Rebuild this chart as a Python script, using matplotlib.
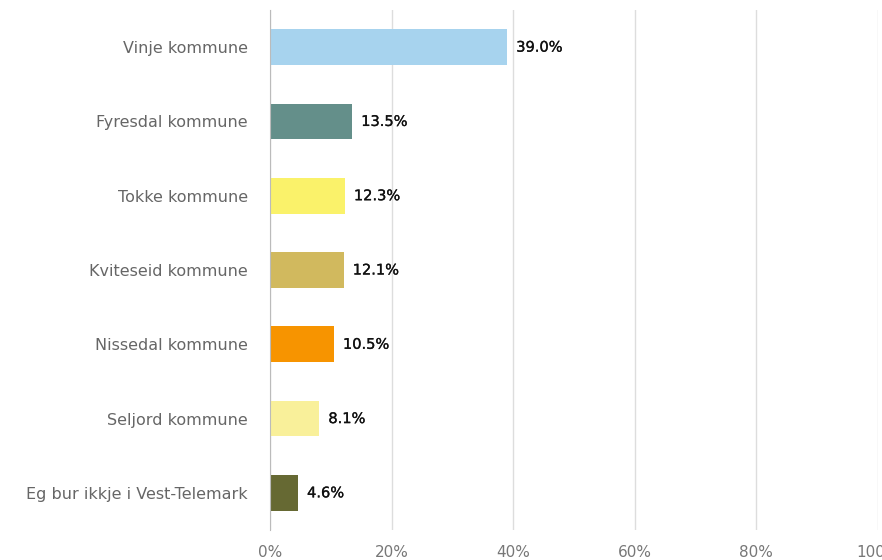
import matplotlib
matplotlib.use("Agg")
import matplotlib.pyplot as plt
import matplotlib.patheffects as pe
import numpy as np

categories = ["Vinje kommune", "Fyresdal kommune", "Tokke kommune",
              "Kviteseid kommune", "Nissedal kommune", "Seljord kommune",
              "Eg bur ikkje i Vest-Telemark"]
values = [39.0, 13.5, 12.3, 12.1, 10.5, 8.1, 4.6]
colors = ["#a7d3ee", "#648f8a", "#faf26a", "#d1b95e", "#f79400", "#f9f09a", "#666933"]
ticks = [0, 20, 40, 60, 80, 100]

plt.rcParams['font.family'] = ['DejaVu Sans']

fig = plt.figure(figsize=(8.82, 5.6), dpi=100)
ax = fig.add_axes([270 / 882, 30 / 560, 608 / 882, 520 / 560])

y = np.arange(len(categories))
ax.barh(y, values, height=0.48, color=colors, zorder=3)
for yi, v in zip(y, values):
    ax.text(v + 1.5, yi, f"{v:.1f}%", va="center", ha="left",
            fontsize=10.5, color="#111111", zorder=4,
            path_effects=[pe.withStroke(linewidth=0.2, foreground="#111111")])

ax.set_xlim(0, 100)
ax.set_ylim(len(categories) - 0.5, -0.5)
ax.set_yticks(y)
ax.set_yticklabels(categories, fontsize=11.5, color="#666666")
ax.set_xticks(ticks)
ax.set_xticklabels([f"{t}%" for t in ticks], fontsize=11, color="#777777")
ax.tick_params(axis="both", length=0)
ax.tick_params(axis="y", pad=16)
ax.tick_params(axis="x", pad=11)
ax.grid(axis="x", color="#dddddd", linewidth=1, zorder=0)
for s in ["top", "right", "bottom"]:
    ax.spines[s].set_visible(False)
ax.spines["left"].set_color("#bbbbbb")
ax.spines["left"].set_zorder(5)

fig.savefig("out.png", dpi=100)
